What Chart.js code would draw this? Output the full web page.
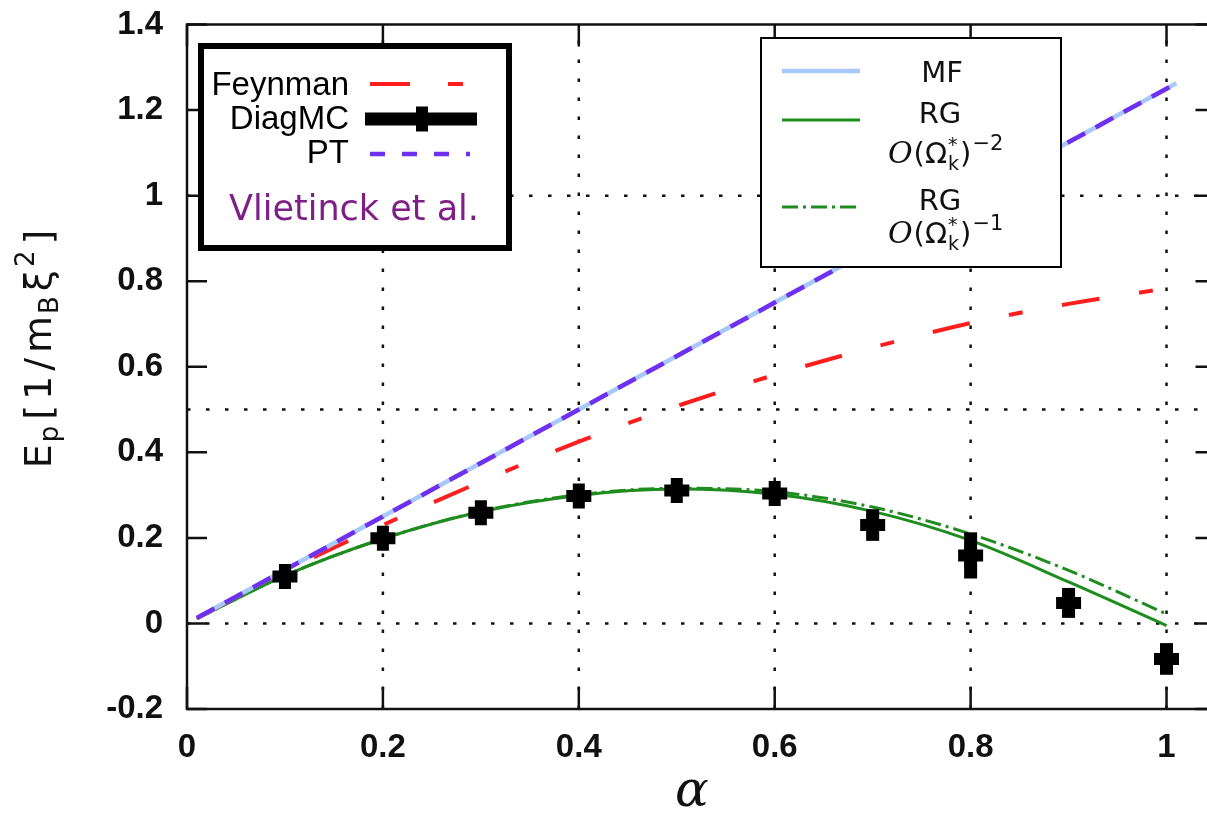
<!DOCTYPE html>
<html>
<head>
<meta charset="utf-8">
<script src="https://cdn.jsdelivr.net/npm/chart.js@4/dist/chart.umd.min.js"></script>
<style>
  html, body { margin: 0; padding: 0; background: #fff; overflow: hidden; }
  #wrap { position: relative; width: 1240px; height: 816px; }
</style>
</head>
<body>
<div id="wrap"><canvas id="c" width="1240" height="816"></canvas></div>
<script>
// DiagMC points (alpha, energy, error)
const alpha = [0.1, 0.2, 0.3, 0.4, 0.5, 0.6, 0.7, 0.8, 0.9, 1.0];
const diagMC = [0.110, 0.199, 0.259, 0.298, 0.311, 0.304, 0.230, 0.159, 0.048, -0.083];
const diagErr = [0.008, 0.008, 0.008, 0.008, 0.008, 0.008, 0.037, 0.054, 0.035, 0.037];

// curves
const curveX = [0.01, 0.1, 0.2, 0.3, 0.4, 0.5, 0.6, 0.7, 0.8, 0.9, 1.0];
const feynman = [0.012, 0.122, 0.230, 0.331, 0.425, 0.508, 0.581, 0.645, 0.702, 0.747, 0.783];
const rgOrder2 = [0.011, 0.112, 0.198, 0.261, 0.299, 0.314, 0.302, 0.262, 0.194, 0.097, -0.005];
const rgOrder1 = [0.011, 0.112, 0.198, 0.262, 0.301, 0.316, 0.308, 0.272, 0.209, 0.124, 0.022];

// mean field and perturbation theory (straight lines)
const mfX = [0.01, 0.4, 0.6, 1.01];
const mfE = [0.0125, 0.5, 0.75, 1.2625];
const ptE = [0.0125, 0.5, 0.75, 1.2625];

// axes
const xTickVals = [0, 0.2, 0.4, 0.6, 0.8, 1];
const yTickVals = [-0.2, 0, 0.2, 0.4, 0.6, 0.8, 1, 1.2, 1.4];
const xGrid = [0.2, 0.4, 0.6, 0.8, 1];
const yGrid = [0, 0.5, 1];

const RED = '#ff1e1e', BLUE = '#a8c8fa', PURPLE = '#7030f0', GREEN = '#1f8c1f', VIOLET = '#7d1f86';

function pts(xs, ys) {
  return xs.map((x, i) => ({ x: x, y: ys[i] }));
}

function measureRich(ctx, parts) {
  let w = 0;
  parts.forEach(p => {
    ctx.font = p.f;
    if (!p.keep) w += ctx.measureText(p.t).width + (p.gap || 0);
  });
  return w;
}
function drawRich(ctx, parts, x, y) {
  parts.forEach(p => {
    ctx.font = p.f;
    ctx.fillText(p.t, x, y + (p.dy || 0));
    if (!p.keep) x += ctx.measureText(p.t).width + (p.gap || 0);
  });
  return x;
}

function plusMark(ctx, x, y, r, w) {
  ctx.save();
  ctx.strokeStyle = '#000';
  ctx.lineWidth = w;
  ctx.beginPath();
  ctx.moveTo(x - r, y); ctx.lineTo(x + r, y);
  ctx.moveTo(x, y - r); ctx.lineTo(x, y + r);
  ctx.stroke();
  ctx.restore();
}

function sample(ctx, x1, x2, y, color, width, dash) {
  ctx.save();
  ctx.strokeStyle = color;
  ctx.lineWidth = width;
  ctx.setLineDash(dash || []);
  ctx.beginPath();
  ctx.moveTo(x1, y); ctx.lineTo(x2, y);
  ctx.stroke();
  ctx.restore();
}

function omegaParts(exp) {
  return [
    { t: 'O', f: 'italic 30px "DejaVu Serif"', gap: 1 },
    { t: '(', f: '29px "DejaVu Sans"' },
    { t: 'Ω', f: '29px "DejaVu Sans"', gap: 1 },
    { t: '*', f: '19px "DejaVu Sans"', dy: -12, keep: true },
    { t: 'k', f: '19px "DejaVu Sans"', dy: 7, gap: 1 },
    { t: ')', f: '29px "DejaVu Sans"', gap: 1 },
    { t: exp, f: '21px "DejaVu Sans"', dy: -13 }
  ];
}

const decor = {
  id: 'decor',
  beforeDatasetsDraw(chart) {
    const ctx = chart.ctx, a = chart.chartArea;
    const xs = chart.scales.x, ys = chart.scales.y;
    ctx.save();
    ctx.strokeStyle = '#111';
    ctx.lineWidth = 2.5;
    ctx.setLineDash([3.5, 15.5]);
    xGrid.forEach(v => {
      const px = xs.getPixelForValue(v);
      ctx.beginPath(); ctx.moveTo(px, a.bottom); ctx.lineTo(px, a.top); ctx.stroke();
    });
    yGrid.forEach(v => {
      const py = ys.getPixelForValue(v);
      ctx.beginPath(); ctx.moveTo(a.left, py); ctx.lineTo(a.right, py); ctx.stroke();
    });
    ctx.restore();
  },
  afterDatasetsDraw(chart) {
    const ctx = chart.ctx, a = chart.chartArea;
    const xs = chart.scales.x, ys = chart.scales.y;

    // error bars
    ctx.save();
    ctx.strokeStyle = '#000';
    ctx.lineWidth = 13;
    alpha.forEach((v, i) => {
      const px = xs.getPixelForValue(v);
      ctx.beginPath();
      ctx.moveTo(px, ys.getPixelForValue(diagMC[i] - diagErr[i]));
      ctx.lineTo(px, ys.getPixelForValue(diagMC[i] + diagErr[i]));
      ctx.stroke();
    });
    ctx.restore();

    // frame and inward ticks
    ctx.save();
    ctx.strokeStyle = '#111';
    ctx.lineWidth = 2.5;
    ctx.strokeRect(a.left, a.top, a.right - a.left, a.bottom - a.top);
    ctx.beginPath();
    yTickVals.forEach(v => {
      const py = ys.getPixelForValue(v);
      ctx.moveTo(a.left, py); ctx.lineTo(a.left + 20, py);
      ctx.moveTo(a.right, py); ctx.lineTo(a.right - 20, py);
    });
    xTickVals.forEach(v => {
      const px = xs.getPixelForValue(v);
      ctx.moveTo(px, a.bottom); ctx.lineTo(px, a.bottom - 22);
      ctx.moveTo(px, a.top); ctx.lineTo(px, a.top + 22);
    });
    ctx.stroke();
    ctx.restore();

    // left key
    ctx.save();
    ctx.fillStyle = '#fff';
    ctx.fillRect(198, 43, 314, 208);
    ctx.strokeStyle = '#000';
    ctx.lineWidth = 6;
    ctx.strokeRect(201, 46, 308, 202);
    ctx.fillStyle = '#000';
    ctx.textAlign = 'right';
    ctx.textBaseline = 'alphabetic';
    ctx.font = '33px "Liberation Sans"';
    ctx.fillText('Feynman', 349, 95);
    ctx.fillText('DiagMC', 349, 129);
    ctx.fillText('PT', 349, 163);
    sample(ctx, 370, 470, 84, RED, 4, [40, 38, 15, 40]);
    sample(ctx, 365, 477, 119, '#000', 13);
    plusMark(ctx, 422, 119, 12.5, 12);
    sample(ctx, 370, 470, 154, PURPLE, 4.5, [15, 17]);
    ctx.fillStyle = VIOLET;
    ctx.textAlign = 'center';
    ctx.font = '35px "DejaVu Sans"';
    ctx.fillText('Vlietinck et al.', 354, 220);
    ctx.restore();

    // right key
    ctx.save();
    ctx.fillStyle = '#fff';
    ctx.fillRect(760, 37, 302, 231);
    ctx.strokeStyle = '#000';
    ctx.lineWidth = 2;
    ctx.strokeRect(761, 38, 300, 229);
    sample(ctx, 782, 860, 71, BLUE, 4.5);
    sample(ctx, 782, 860, 120, GREEN, 3);
    sample(ctx, 782, 860, 207, GREEN, 3, [16, 5, 3, 5]);
    ctx.fillStyle = '#111';
    ctx.textAlign = 'center';
    ctx.font = '29px "DejaVu Sans"';
    ctx.fillText('MF', 942, 82);
    ctx.fillText('RG', 940, 123);
    ctx.fillText('RG', 940, 210);
    ctx.textAlign = 'left';
    drawRich(ctx, omegaParts('−2'), 888, 163);
    drawRich(ctx, omegaParts('−1'), 888, 243);
    ctx.restore();
  },
  afterDraw(chart) {
    const ctx = chart.ctx;
    ctx.save();
    ctx.fillStyle = '#111';
    ctx.textBaseline = 'alphabetic';
    // y title
    const parts = [
      { t: 'E', f: '38px "DejaVu Sans"', gap: 2 },
      { t: 'p', f: '26px "DejaVu Sans"', dy: 7, gap: 6 },
      { t: '[', f: '38px "DejaVu Sans"', gap: 5 },
      { t: '1', f: '38px "DejaVu Sans"', gap: 5 },
      { t: '/', f: '38px "DejaVu Sans"', gap: 5 },
      { t: 'm', f: '38px "DejaVu Sans"', gap: 2 },
      { t: 'B', f: '26px "DejaVu Sans"', dy: 7, gap: 5 },
      { t: 'ξ', f: '38px "DejaVu Sans"', gap: 3 },
      { t: '2', f: '26px "DejaVu Sans"', dy: -17, gap: 6 },
      { t: ']', f: '38px "DejaVu Sans"' }
    ];
    ctx.translate(51, 349);
    ctx.rotate(-Math.PI / 2);
    ctx.textAlign = 'left';
    const w = measureRich(ctx, parts);
    drawRich(ctx, parts, -w / 2, 0);
    ctx.restore();

    // x title
    ctx.save();
    ctx.fillStyle = '#111';
    ctx.textAlign = 'center';
    ctx.font = 'italic 50px "DejaVu Serif"';
    ctx.fillText('α', 692, 806);
    ctx.restore();
  }
};

new Chart(document.getElementById('c'), {
  type: 'scatter',
  data: {
    datasets: [
      { label: 'DiagMC', data: pts(alpha, diagMC), showLine: false, pointStyle: 'cross',
        pointRadius: 12.5, pointBorderWidth: 12, borderColor: '#000', backgroundColor: '#000', order: 0 },
      { label: 'PT', data: pts(mfX, ptE), showLine: true, borderColor: PURPLE, borderWidth: 4.5,
        borderDash: [20, 12], pointRadius: 0, order: 1 },
      { label: 'MF', data: pts(mfX, mfE), showLine: true, borderColor: BLUE, borderWidth: 4.5,
        pointRadius: 0, order: 2 },
      { label: 'Feynman', data: pts(curveX, feynman), showLine: true, borderColor: RED, borderWidth: 4,
        borderDash: [38, 40, 14, 40], cubicInterpolationMode: 'monotone', pointRadius: 0, order: 3 },
      { label: 'RG O(-1)', data: pts(curveX, rgOrder1), showLine: true, borderColor: GREEN, borderWidth: 3,
        borderDash: [16, 5, 3, 5], cubicInterpolationMode: 'monotone', pointRadius: 0, order: 4 },
      { label: 'RG O(-2)', data: pts(curveX, rgOrder2), showLine: true, borderColor: GREEN, borderWidth: 3,
        cubicInterpolationMode: 'monotone', pointRadius: 0, order: 5 }
    ]
  },
  options: {
    responsive: false,
    animation: false,
    events: [],
    layout: { padding: { top: 21, right: 23, left: 0, bottom: 0 } },
    plugins: { legend: { display: false }, tooltip: { enabled: false } },
    scales: {
      x: {
        type: 'linear', min: 0, max: 1.05,
        afterBuildTicks: s => { s.ticks = xTickVals.map(v => ({ value: v })); },
        afterFit: s => { s.height = 107; },
        grid: { display: false, drawTicks: true, tickLength: 19 },
        border: { display: false },
        ticks: { padding: 0, color: '#111', maxRotation: 0,
          font: { family: 'Liberation Sans', size: 33, weight: 'bold' },
          callback: v => String(+v.toFixed(1)) }
      },
      y: {
        type: 'linear', min: -0.2, max: 1.4,
        afterBuildTicks: s => { s.ticks = yTickVals.map(v => ({ value: v })); },
        afterFit: s => { s.width = 187; },
        grid: { display: false, drawTicks: true, tickLength: 24 },
        border: { display: false },
        ticks: { padding: 0, color: '#111',
          font: { family: 'Liberation Sans', size: 33, weight: 'bold' },
          callback: v => String(+v.toFixed(1)) }
      }
    }
  },
  plugins: [decor]
});
</script>
</body>
</html>
